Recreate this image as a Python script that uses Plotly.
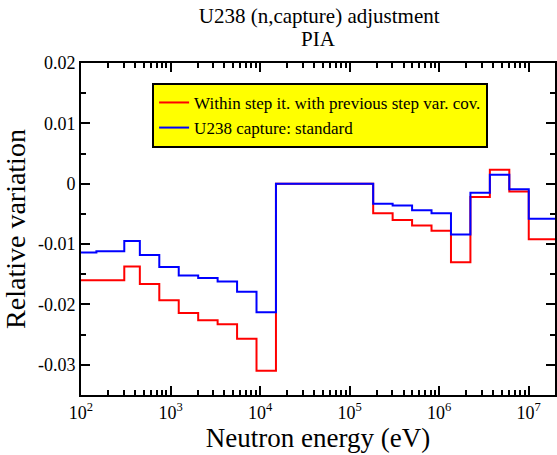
import plotly.graph_objects as go

# ECCO-33 group boundaries (eV), ascending
bounds = [91.6609, 148.625, 304.325, 453.999, 748.518, 1234.10, 2034.68, 3354.63,
          5530.84, 9118.82, 15034.4, 24787.5, 40867.7, 67379.5, 111090.0, 183156.0,
          301974.0, 497871.0, 820850.0, 1353350.0, 2231300.0, 3678790.0, 6065310.0,
          10000000.0, 19640300.0]

red_vals = [-0.0160, -0.0160, -0.0137, -0.0166, -0.0193, -0.0214, -0.0226, -0.0233,
            -0.0257, -0.0310, 0.0, 0.0, 0.0, 0.0, 0.0, -0.0049, -0.0060, -0.0069,
            -0.0078, -0.0130, -0.0022, 0.0023, -0.0013, -0.0092]
blue_vals = [-0.0114, -0.0112, -0.0095, -0.0118, -0.0138, -0.0152, -0.0156, -0.0162,
             -0.0179, -0.0213, 0.0, 0.0, 0.0, 0.0, 0.0, -0.0033, -0.0036, -0.0044,
             -0.0049, -0.0084, -0.0015, 0.0015, -0.0009, -0.0058]

red_name = "Within step it. with previous step var. cov."
blue_name = "U238 capture: standard"

y_ticks = [0.02, 0.01, 0.0, -0.01, -0.02, -0.03]
y_ticktext = ["0.02", "0.01", "0", "-0.01", "-0.02", "-0.03"]
x_ticks = [1e2, 1e3, 1e4, 1e5, 1e6, 1e7]
x_ticktext = ["10<sup>2</sup>", "10<sup>3</sup>", "10<sup>4</sup>",
              "10<sup>5</sup>", "10<sup>6</sup>", "10<sup>7</sup>"]
x_minor = [m * 10 ** e for e in range(2, 8) for m in range(2, 10)]

FONT = "Liberation Serif"

fig = go.Figure()
fig.add_trace(go.Scatter(x=bounds, y=red_vals + [red_vals[-1]], mode="lines",
                         line=dict(color="#ff0000", width=2, shape="hv"), name=red_name))
fig.add_trace(go.Scatter(x=bounds, y=blue_vals + [blue_vals[-1]], mode="lines",
                         line=dict(color="#0000ff", width=2, shape="hv"), name=blue_name))

axis_common = dict(showline=True, linecolor="black", linewidth=2, mirror="allticks",
                   ticks="inside", ticklen=9, tickwidth=2, tickcolor="black",
                   showgrid=False, zeroline=False, automargin=False,
                   tickfont=dict(family=FONT, size=18, color="black"))

fig.update_xaxes(type="log", range=[2, 7.2931], tickmode="array", tickvals=x_ticks,
                 ticktext=x_ticktext,
                 minor=dict(ticks="inside", ticklen=5, tickwidth=1.5, tickcolor="black",
                            tickmode="array", tickvals=x_minor, showgrid=False),
                 title=dict(text="Neutron energy (eV)", font=dict(family=FONT, size=27, color="black"),
                            standoff=0),
                 **axis_common)
fig.update_yaxes(range=[-0.035, 0.02], tickmode="array", tickvals=y_ticks,
                 ticktext=y_ticktext,
                 minor=dict(ticks="inside", ticklen=5, tickwidth=2, tickcolor="black",
                            tickmode="linear", tick0=0, dtick=0.005, showgrid=False),
                 title=dict(text="Relative variation", font=dict(family=FONT, size=28, color="black"),
                            standoff=4),
                 **axis_common)

fig.update_layout(
    width=557, height=455,
    margin=dict(l=81, r=2, t=63, b=60),
    paper_bgcolor="white", plot_bgcolor="white",
    title=dict(text="U238 (n,capture) adjustment", x=0.573, xanchor="center",
               y=1 - 16 / 455, yanchor="middle", pad=dict(t=0, b=0),
               font=dict(family=FONT, size=21, color="black")),
    annotations=[dict(text="PIA", xref="paper", yref="paper", x=0.5, y=(395 - 39) / 332,
                      xanchor="center", yanchor="middle", showarrow=False,
                      font=dict(family=FONT, size=21, color="black"))],
    legend=dict(x=0.15, y=0.94, xanchor="left", yanchor="top", bgcolor="#ffff00",
                bordercolor="black", borderwidth=2,
                font=dict(family=FONT, size=17, color="black"),
                itemwidth=30, tracegroupgap=0),
    showlegend=True,
)

fig.write_html("out.html")
